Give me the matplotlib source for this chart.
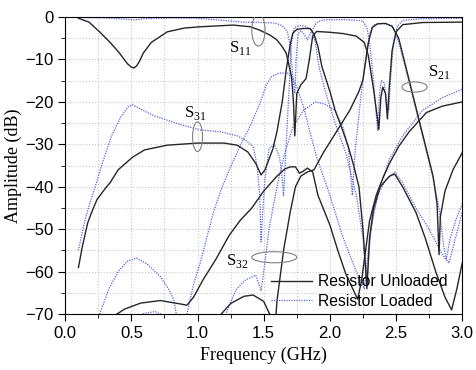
import numpy as np
import matplotlib.pyplot as plt
from matplotlib.patches import Ellipse
from matplotlib.ticker import MultipleLocator

# values (GHz, dB)
# ---- resistor unloaded (black) ----
f_s11_u = [0.1, 0.18, 0.26, 0.34, 0.41, 0.47, 0.5, 0.52, 0.54, 0.56, 0.59, 0.65, 0.77, 0.9, 1.02, 1.27, 1.4, 1.47,
           1.55, 1.6, 1.64, 1.67, 1.71, 1.725, 1.735, 1.75, 1.78, 1.82, 1.845, 1.87, 1.9, 2.0, 2.1, 2.2,
           2.26, 2.29, 2.33, 2.36, 2.37, 2.385, 2.4, 2.42, 2.435, 2.45, 2.47, 2.5, 2.55, 2.7, 3.0]
a_s11_u = [-0.3, -1.2, -3.5, -6.0, -8.5, -11.0, -11.8, -12.0, -11.5, -10.5, -8.5, -6.0, -3.5, -2.6, -2.3, -1.9, -2.3, -3.1,
           -4.3, -5.4, -7.0, -8.5, -14.0, -20.0, -28.0, -18.0, -16.0, -14.5, -10.0, -4.5, -3.4, -3.6, -3.9, -4.5,
           -6.0, -9.0, -17.0, -24.0, -26.5, -19.0, -16.5, -18.0, -24.0, -16.0, -8.0, -3.5, -1.8, -1.3, -1.2]

f_s21_u = [1.15, 1.25, 1.35, 1.42, 1.5, 1.56, 1.58, 1.6, 1.65, 1.7, 1.74, 1.78, 1.83, 1.88, 1.95, 2.05,
           2.15, 2.22, 2.25, 2.29, 2.32, 2.36, 2.42, 2.47, 2.5, 2.52, 2.6, 2.7, 2.78, 2.81, 2.825, 2.835,
           2.87, 2.93, 3.0]
a_s21_u = [-71.0, -67.5, -65.8, -65.5, -67.0, -71.0, -76.0, -67.0, -55.0, -46.0, -40.0, -37.5, -36.5, -36.0, -32.0, -27.0,
           -22.0, -17.5, -14.8, -6.2, -2.5, -1.6, -1.5, -2.2, -3.8, -5.0, -15.0, -27.5, -37.5, -44.0, -56.0, -47.0,
           -41.0, -36.0, -32.0]

f_s31_u = [0.1, 0.13, 0.17, 0.2, 0.24, 0.3, 0.34, 0.4, 0.51, 0.6, 0.77, 1.0, 1.2, 1.3, 1.38, 1.44, 1.48,
           1.51, 1.54, 1.57, 1.6, 1.64, 1.67, 1.7, 1.72, 1.75, 1.8, 1.85, 1.88, 1.91, 1.94, 2.0, 2.04, 2.1,
           2.14, 2.18, 2.22, 2.25, 2.28, 2.3, 2.33, 2.38, 2.45, 2.49, 2.55, 2.65, 2.72, 2.8, 2.87, 2.92,
           2.96, 3.0]
a_s31_u = [-59.0, -54.0, -48.5, -46.0, -43.0, -40.5, -39.0, -36.0, -33.0, -31.3, -30.2, -29.7, -29.7, -30.2, -31.8, -34.5, -37.2,
           -36.0, -33.5, -31.0, -27.0, -20.0, -12.5, -6.5, -3.8, -2.9, -2.7, -2.7, -4.0, -7.0, -11.7, -17.5, -22.0, -27.0,
           -30.6, -35.0, -40.0, -50.0, -64.0, -52.0, -45.0, -40.0, -37.5, -37.0, -40.0, -46.0, -52.0, -60.0, -66.0, -69.0,
           -64.0, -58.0]

f_s32_u = [0.39, 0.45, 0.57, 0.72, 0.87, 0.92, 0.97, 1.04, 1.14, 1.24, 1.32, 1.41, 1.5, 1.6, 1.66, 1.7,
           1.74, 1.77, 1.8, 1.83, 1.87, 1.91, 2.0, 2.06, 2.12, 2.18, 2.21, 2.24, 2.27, 2.3, 2.35, 2.4,
           2.45, 2.52, 2.6, 2.73, 2.85, 3.0]
a_s32_u = [-70.0, -68.8, -67.4, -66.8, -67.6, -67.9, -66.0, -62.0, -57.0, -51.4, -48.0, -45.0, -41.0, -37.5, -35.8, -35.3,
           -35.3, -36.8, -36.3, -35.6, -36.5, -42.0, -49.0, -55.0, -60.5, -64.5, -66.5, -62.0, -55.0, -48.0, -42.0, -38.0,
           -34.5, -30.5, -27.0, -22.5, -21.0, -20.0]

# ---- resistor loaded (blue) ----
f_s11_l = [0.1, 0.3, 0.45, 0.52, 0.6, 0.8, 1.0, 1.2, 1.35, 1.5, 1.58, 1.64, 1.68, 1.7, 1.72, 1.735,
           1.745, 1.76, 1.78, 1.8, 1.83, 1.86, 1.9, 1.95, 2.1, 2.25, 2.28, 2.3, 2.33, 2.36, 2.375, 2.39,
           2.41, 2.43, 2.445, 2.46, 2.48, 2.51, 2.55, 2.7, 3.0]
a_s11_l = [-0.1, -0.2, -0.5, -0.7, -0.4, -0.2, -0.3, -0.8, -1.2, -1.3, -1.4, -2.0, -3.5, -7.0, -14.0, -18.0,
           -10.0, -4.0, -3.2, -3.8, -5.4, -3.5, -1.3, -0.7, -0.6, -0.9, -2.5, -6.0, -15.0, -26.7, -18.0, -15.0,
           -15.5, -20.0, -22.0, -14.0, -6.0, -2.2, -0.8, -0.4, -0.3]

f_s21_l = [0.5, 0.6, 0.68, 0.75, 0.8, 1.2, 1.29, 1.36, 1.44, 1.48, 1.5, 1.54, 1.6, 1.66, 1.72, 1.8, 1.89, 1.96, 2.04, 2.1, 2.14,
           2.17, 2.19, 2.23, 2.27, 2.3, 2.33, 2.4, 2.47, 2.5, 2.53, 2.6, 2.7, 2.78, 2.83, 2.86, 2.88,
           2.91, 2.95, 3.0]
a_s21_l = [-71.0, -69.8, -69.4, -70.4, -75.0, -71.0, -64.3, -62.0, -60.8, -64.5, -60.0, -50.0, -40.0, -32.0, -26.0, -22.0, -20.0, -20.5, -22.0, -26.0, -31.0,
           -42.0, -32.0, -20.0, -10.0, -4.0, -1.8, -1.5, -2.0, -4.0, -7.0, -15.5, -28.0, -38.0, -46.0, -54.0, -57.0,
           -52.0, -48.0, -44.0]

f_s31_l = [0.1, 0.14, 0.18, 0.23, 0.28, 0.35, 0.42, 0.48, 0.51, 0.56, 0.65, 0.77, 0.9, 1.02, 1.17, 1.3,
           1.36, 1.42, 1.45, 1.47, 1.48, 1.49, 1.51, 1.54, 1.58, 1.62, 1.64, 1.65, 1.67, 1.69, 1.71, 1.73,
           1.77, 1.82, 1.86, 1.89, 1.92, 1.97, 2.04, 2.12, 2.2, 2.25, 2.28, 2.31, 2.36, 2.42, 2.49, 2.55,
           2.65, 2.75, 2.85, 2.9, 2.95, 3.0]
a_s31_l = [-55.0, -49.0, -44.5, -39.6, -34.5, -28.0, -23.5, -21.0, -20.7, -21.5, -23.0, -24.3, -25.6, -26.6, -27.0, -28.0,
           -29.0, -30.5, -35.0, -42.0, -53.0, -47.0, -38.0, -31.0, -30.0, -33.0, -38.0, -42.0, -30.0, -18.0, -6.0, -2.5,
           -2.0, -2.2, -3.0, -6.0, -12.0, -18.0, -25.0, -32.0, -42.0, -52.0, -62.0, -50.0, -42.0, -38.5, -36.5, -39.0,
           -45.0, -50.0, -56.0, -58.0, -52.0, -46.0]

f_s32_l = [0.26, 0.33, 0.4, 0.47, 0.54, 0.62, 0.72, 0.78, 0.82, 0.84, 0.86, 0.9, 0.92, 0.97, 1.02, 1.07,
           1.12, 1.18, 1.24, 1.32, 1.4, 1.47, 1.52, 1.56, 1.62, 1.68, 1.72, 1.75, 1.8, 1.84, 1.9, 2.0,
           2.1, 2.2, 2.26, 2.29, 2.33, 2.4, 2.45, 2.55, 2.7, 2.85, 3.0]
a_s32_l = [-70.0, -64.0, -60.0, -57.5, -56.8, -58.2, -61.2, -64.0, -66.5, -70.0, -80.0, -75.0, -70.0, -63.0, -58.0, -52.0,
           -46.0, -40.5, -36.0, -30.5, -25.5, -20.5, -16.0, -14.0, -13.2, -13.2, -14.5, -16.5, -21.0, -26.0, -33.0, -42.0,
           -52.0, -60.0, -64.0, -55.0, -46.0, -38.0, -33.5, -28.0, -22.0, -19.0, -17.0]

black = '#262626'
blue = '#5565dc'

plt.rcParams['font.family'] = ['Liberation Sans', 'DejaVu Sans']
fig = plt.figure(figsize=(4.76, 3.70), dpi=100)
ax = fig.add_axes([0.137, 0.151, 0.834, 0.803])

unl = [(f_s11_u, a_s11_u), (f_s21_u, a_s21_u), (f_s31_u, a_s31_u), (f_s32_u, a_s32_u)]
lod = [(f_s11_l, a_s11_l), (f_s21_l, a_s21_l), (f_s31_l, a_s31_l), (f_s32_l, a_s32_l)]
for i, (f, a) in enumerate(unl):
    ax.plot(f, a, color=black, lw=1.0, label='Resistor Unloaded' if i == 0 else None, zorder=3)
for i, (f, a) in enumerate(lod):
    ax.plot(f, a, color=blue, lw=0.9, ls=(0, (1, 1)), label='Resistor Loaded' if i == 0 else None, zorder=2)

ax.set_xlim(0, 3.0)
ax.set_ylim(-70, 0)
ax.xaxis.set_major_locator(MultipleLocator(0.5))
ax.xaxis.set_minor_locator(MultipleLocator(0.25))
ax.yaxis.set_major_locator(MultipleLocator(10))
ax.yaxis.set_minor_locator(MultipleLocator(5))
ax.tick_params(which='both', direction='out', labelsize=12)
ax.tick_params(which='major', length=5)
ax.tick_params(which='minor', length=3)
ax.xaxis.set_major_formatter(plt.FuncFormatter(lambda v, p: f'{v:.1f}'))
ax.grid(which='both', color='#c8c8c8', ls=':', lw=0.8)

ax.set_xlabel('Frequency (GHz)', family='Liberation Serif', fontsize=13)
ax.set_ylabel('Amplitude (dB)', family='Liberation Serif', fontsize=13, labelpad=2)

serif = dict(family='Liberation Serif', fontsize=12, ha='center', va='center')
ax.text(1.32, -7.3, r'S$_{\mathregular{11}}$', **serif)
ax.text(0.98, -22.6, r'S$_{\mathregular{31}}$', **serif)
ax.text(2.83, -13.0, r'S$_{\mathregular{21}}$', **serif)
ax.text(1.30, -57.5, r'S$_{\mathregular{32}}$', **serif)
for (cx, cy, w, h) in [(1.46, -3.1, 0.1, 7.5), (1.0, -28.2, 0.075, 7.0), (2.64, -16.5, 0.19, 2.4), (1.58, -56.6, 0.34, 2.6)]:
    ax.add_patch(Ellipse((cx, cy), w, h, fill=False, ec='#808080', lw=0.8, zorder=4))

ax.legend(loc='lower right', bbox_to_anchor=(1.0, -0.03), frameon=False, fontsize=11.3,
          handlelength=2.6, handletextpad=0.4, labelspacing=0.3)

fig.savefig('out.png', dpi=100)
